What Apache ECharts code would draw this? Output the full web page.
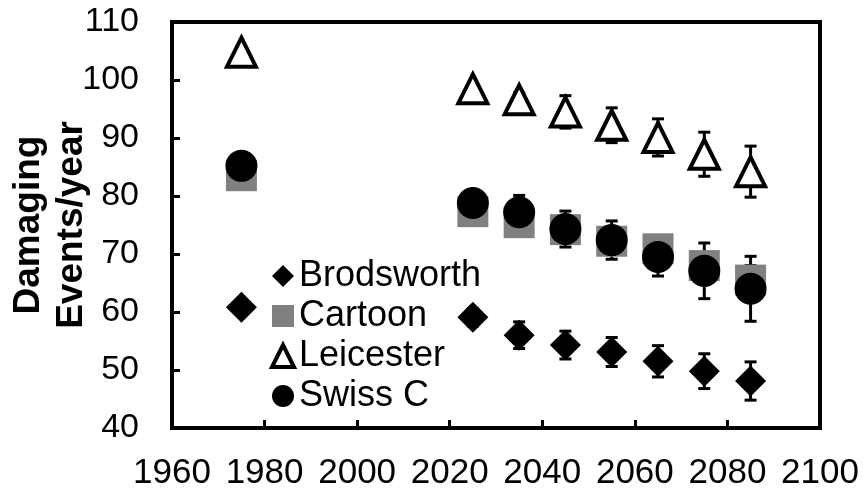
<!DOCTYPE html>
<html>
<head>
<meta charset="utf-8">
<script src="https://cdn.jsdelivr.net/npm/echarts@6/dist/echarts.min.js"></script>
<style>html,body{margin:0;padding:0;background:#fff;}#c{width:868px;height:493px;}</style>
</head>
<body>
<div id="c"></div>
<script>
const years = [1975, 2025, 2035, 2045, 2055, 2065, 2075, 2085];
const brodsworth = [60.8, 59.1, 56.0, 54.3, 53.1, 51.5, 49.8, 48.1];
const brodsworthErr = [0, 1.5, 2.3, 2.4, 2.5, 2.7, 3.0, 3.3];
const cartoon = [83.5, 77.3, 75.4, 74.2, 72.2, 70.9, 68.0, 65.5];
const cartoonErr = [0, 1.0, 1.2, 1.5, 1.8, 2.0, 2.2, 2.5];
const leicester = [104.8, 98.5, 96.6, 94.5, 92.2, 90.1, 87.2, 84.2];
const leicesterErr = [0, 0.8, 1.2, 2.8, 3.0, 3.2, 3.8, 4.4];
const swiss = [85.2, 78.8, 77.2, 74.3, 72.4, 69.5, 67.1, 64.0];
const swissErr = [0, 0.8, 2.9, 3.1, 3.3, 3.3, 4.8, 5.6];
const xTicks = [1960, 1980, 2000, 2020, 2040, 2060, 2080, 2100];
const yTicks = [40, 50, 60, 70, 80, 90, 100, 110];

const FONT = "'Liberation Sans', Arial, sans-serif";

function pts(vals) { return years.map((y, i) => [y, vals[i]]); }
function errData(vals, errs) {
  const out = [];
  years.forEach((y, i) => { if (errs[i] > 0) out.push([y, vals[i] - errs[i], vals[i] + errs[i]]); });
  return out;
}
function errSeries(name, vals, errs) {
  return {
    type: 'custom',
    name: name + ' err',
    silent: true,
    data: errData(vals, errs),
    encode: { x: 0, y: [1, 2] },
    renderItem: function (params, api) {
      const x = api.value(0);
      const lo = api.coord([x, api.value(1)]);
      const hi = api.coord([x, api.value(2)]);
      const w = 6;
      const st = { stroke: '#000', lineWidth: 3 };
      return {
        type: 'group',
        children: [
          { type: 'line', shape: { x1: hi[0], y1: hi[1], x2: lo[0], y2: lo[1] }, style: st },
          { type: 'line', shape: { x1: hi[0] - w, y1: hi[1], x2: hi[0] + w, y2: hi[1] }, style: st },
          { type: 'line', shape: { x1: lo[0] - w, y1: lo[1], x2: lo[0] + w, y2: lo[1] }, style: st }
        ]
      };
    }
  };
}

const chart = echarts.init(document.getElementById('c'), null, { renderer: 'canvas' });
chart.setOption({
  animation: false,
  backgroundColor: '#fff',
  textStyle: { fontFamily: FONT },
  grid: { left: 172, right: 48, top: 22, bottom: 65, show: true, borderColor: '#000', borderWidth: 4,
          containLabel: false, outerBoundsMode: 'none' },
  legend: {
    data: [
      'Brodsworth',
      'Cartoon',
      { name: 'Leicester', itemStyle: { color: '#fff', borderColor: '#000', borderWidth: 4 } },
      'Swiss C'
    ],
    orient: 'vertical',
    left: 265,
    top: 253,
    itemWidth: 22,
    itemHeight: 22,
    itemGap: 4,
    textStyle: { fontSize: 36, lineHeight: 36, color: '#000', fontFamily: FONT },
    selectedMode: false
  },
  xAxis: {
    type: 'value', min: 1960, max: 2100, interval: 20,
    axisLine: { show: true, lineStyle: { color: '#000', width: 4 } },
    axisTick: { show: true, inside: true, length: 8, lineStyle: { color: '#000', width: 3 } },
    axisLabel: { fontSize: 35, color: '#000', margin: 28, fontFamily: FONT,
      formatter: v => xTicks.includes(v) ? String(v) : '' },
    splitLine: { show: false }
  },
  yAxis: {
    type: 'value', min: 40, max: 110, interval: 10,
    name: 'Damaging\nEvents/year',
    nameLocation: 'middle',
    nameGap: 79,
    nameRotate: 90,
    nameMoveOverlap: false,
    nameTextStyle: { fontSize: 37, fontWeight: 'bold', color: '#000', lineHeight: 43, fontFamily: FONT },
    axisLine: { show: true, lineStyle: { color: '#000', width: 4 } },
    axisTick: { show: true, inside: true, length: 8, lineStyle: { color: '#000', width: 3 } },
    axisLabel: { fontSize: 34, color: '#000', margin: 33, fontFamily: FONT,
      formatter: v => yTicks.includes(v) ? String(v) : '' },
    splitLine: { show: false }
  },
  series: [
    {
      type: 'scatter', name: 'Cartoon', data: pts(cartoon),
      symbol: 'rect', symbolSize: 31,
      itemStyle: { color: '#808080', opacity: 1 }, emphasis: { disabled: true }
    },
    errSeries('Cartoon', cartoon, cartoonErr),
    errSeries('Brodsworth', brodsworth, brodsworthErr),
    errSeries('Leicester', leicester, leicesterErr),
    errSeries('Swiss C', swiss, swissErr),
    {
      type: 'scatter', name: 'Brodsworth', data: pts(brodsworth),
      symbol: 'diamond', symbolSize: 31,
      itemStyle: { color: '#000', opacity: 1 }, emphasis: { disabled: true }
    },
    {
      type: 'scatter', name: 'Leicester', data: pts(leicester),
      symbol: 'triangle', symbolSize: [29, 29],
      itemStyle: { color: '#fff', borderColor: '#000', borderWidth: 4, opacity: 1 }, emphasis: { disabled: true }
    },
    {
      type: 'scatter', name: 'Swiss C', data: pts(swiss),
      symbol: 'circle', symbolSize: 32,
      itemStyle: { color: '#000', opacity: 1 }, emphasis: { disabled: true }
    }
  ]
});
</script>
</body>
</html>
